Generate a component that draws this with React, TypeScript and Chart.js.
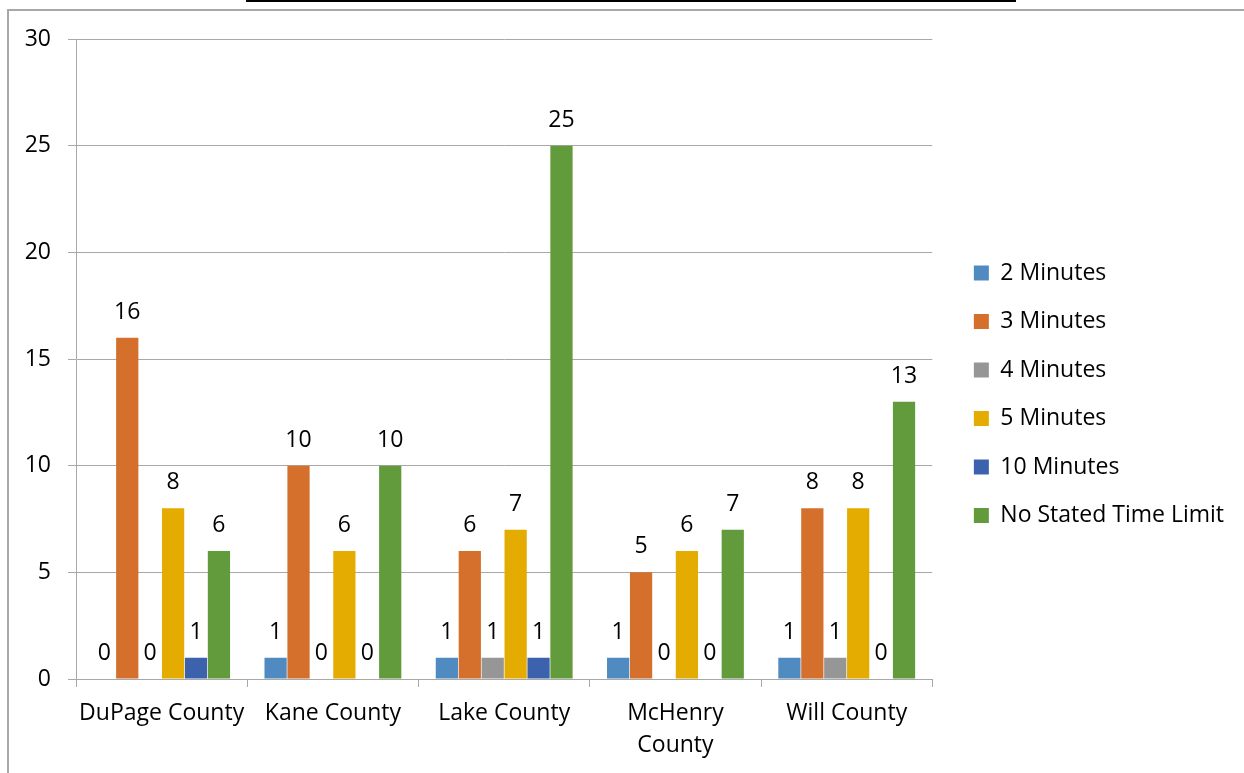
import React, { useEffect, useRef } from "react";
import { Chart, registerables } from "chart.js";

Chart.register(...registerables);

const categories: (string | string[])[] = [
  "DuPage County",
  "Kane County",
  "Lake County",
  ["McHenry", "County"],
  "Will County",
];
const seriesNames = [
  "2 Minutes",
  "3 Minutes",
  "4 Minutes",
  "5 Minutes",
  "10 Minutes",
  "No Stated Time Limit",
];
const twoMinutes = [0, 1, 1, 1, 1];
const threeMinutes = [16, 10, 6, 5, 8];
const fourMinutes = [0, 0, 1, 0, 1];
const fiveMinutes = [8, 6, 7, 6, 8];
const tenMinutes = [1, 0, 1, 0, 0];
const noStatedLimit = [6, 10, 25, 7, 13];
const seriesValues = [twoMinutes, threeMinutes, fourMinutes, fiveMinutes, tenMinutes, noStatedLimit];
const seriesColors = ["#4F8BC0", "#D46F2C", "#969696", "#E4AB00", "#3D62AD", "#629B3C"];
const yMin = 0;
const yMax = 30;
const yStep = 5;

const FONT = "'Open Sans', sans-serif";
const FS = 23;
const GRID = "#A8A8A8";

const dataLabels = {
  id: "dataLabels",
  afterDatasetsDraw(chart: any) {
    const ctx = chart.ctx;
    ctx.save();
    ctx.font = `${FS}px ${FONT}`;
    ctx.fillStyle = "#000";
    ctx.textAlign = "center";
    ctx.textBaseline = "alphabetic";
    chart.data.datasets.forEach((ds: any, i: number) => {
      const meta = chart.getDatasetMeta(i);
      meta.data.forEach((el: any, j: number) => {
        ctx.fillText(String(ds.data[j]), el.x, el.y - 19);
      });
    });
    ctx.restore();
  },
};

const legendShift = {
  id: "legendShift",
  afterLayout(chart: any) {
    const lg = chart.legend;
    if (!lg) return;
    const dx = chart.chartArea.right + 16 - lg.left;
    lg.left += dx;
    lg.right += dx;
    const h = lg.bottom - lg.top;
    lg.top = (788.5 - h) / 2;
    lg.bottom = lg.top + h;
  },
};

export default function App() {
  const ref = useRef<HTMLCanvasElement>(null);

  useEffect(() => {
    if (!ref.current) return;
    const chart = new Chart(ref.current, {
      type: "bar",
      data: {
        labels: categories,
        datasets: seriesNames.map((name, i) => ({
          label: name,
          data: seriesValues[i],
          backgroundColor: seriesColors[i],
          borderWidth: 0,
          categoryPercentage: 0.803,
          barPercentage: 0.97,
        })),
      },
      options: {
        animation: false,
        responsive: false,
        devicePixelRatio: 1,
        layout: { padding: { top: 39, right: 26, bottom: 0, left: 0 } },
        plugins: {
          tooltip: { enabled: false },
          legend: {
            position: "right",
            align: "center",
            labels: {
              boxWidth: 15,
              boxHeight: 15,
              padding: 25.5,
              color: "#000",
              font: { family: FONT, size: FS },
            },
          },
        },
        scales: {
          x: {
            afterFit: (s: any) => {
              s.height = 94;
            },
            grid: {
              display: true,
              drawOnChartArea: false,
              drawTicks: true,
              tickLength: 8,
              color: GRID,
              offset: true,
            },
            border: { display: true, color: GRID, width: 1 },
            ticks: {
              color: "#000",
              padding: 10,
              maxRotation: 0,
              autoSkip: false,
              font: { family: FONT, size: FS, lineHeight: 32 / FS },
            },
          },
          y: {
            min: yMin,
            max: yMax,
            afterFit: (s: any) => {
              s.width = 76;
            },
            grid: { color: GRID, tickLength: 8, drawTicks: true },
            border: { display: true, color: GRID, width: 1 },
            ticks: {
              stepSize: yStep,
              color: "#000",
              padding: 17,
              font: { family: FONT, size: FS },
            },
          },
        },
      },
      plugins: [dataLabels, legendShift],
    } as any);
    return () => chart.destroy();
  }, []);

  return (
    <div
      style={{
        position: "fixed",
        left: 0,
        top: 0,
        width: 1244,
        height: 773,
        background: "#fff",
        overflow: "hidden",
      }}
    >
      <div
        style={{
          position: "absolute",
          left: 7,
          top: 9,
          width: 1250,
          height: 780,
          borderLeft: "2px solid #A8A8A8",
          borderTop: "2px solid #A8A8A8",
        }}
      />
      <div
        style={{
          position: "absolute",
          left: 246,
          top: 0,
          width: 770,
          height: 2,
          background: "#000",
        }}
      />
      <canvas
        ref={ref}
        width={1244}
        height={773}
        style={{ position: "absolute", left: 0, top: 0, width: 1244, height: 773 }}
      />
    </div>
  );
}
